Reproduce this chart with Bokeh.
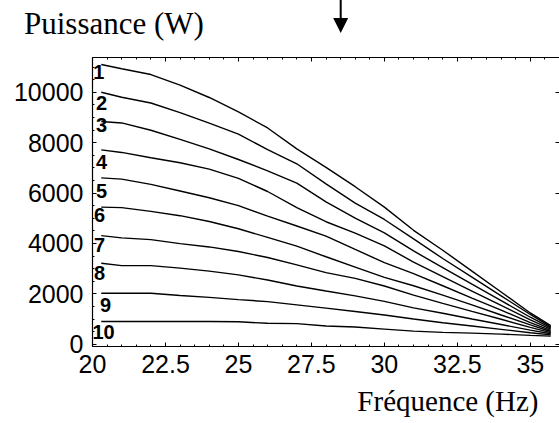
from bokeh.plotting import figure
from bokeh.layouts import column
from bokeh.models import LinearAxis, Range1d, SingleIntervalTicker, Title, Div
from bokeh.embed import file_html
from bokeh.resources import INLINE
from bokeh.core.properties import value

# ---- data ----
freq = [20.3, 21, 22, 23, 24, 25, 26, 27, 28, 29, 30, 31, 32, 33, 34, 35, 35.7]

c1 = [11100, 10930, 10700, 10280, 9790, 9220, 8580, 7750, 7020, 6250, 5440, 4520, 3730, 2900, 2070, 1240, 740]
c2 = [10000, 9800, 9570, 9190, 8770, 8340, 7720, 7160, 6360, 5600, 4950, 4180, 3400, 2660, 1920, 1180, 690]
c3 = [8840, 8780, 8490, 8130, 7750, 7330, 6880, 6390, 5650, 5000, 4420, 3700, 3040, 2380, 1730, 1070, 645]
c4 = [7710, 7610, 7400, 7200, 6950, 6580, 6060, 5420, 4860, 4410, 3900, 3260, 2680, 2110, 1540, 970, 600]
c5 = [6600, 6550, 6340, 6080, 5810, 5500, 5080, 4690, 4290, 3760, 3240, 2800, 2320, 1830, 1350, 860, 550]
c6 = [5440, 5420, 5270, 5100, 4870, 4580, 4240, 3890, 3470, 3060, 2650, 2320, 1950, 1560, 1160, 765, 505]
c7 = [4310, 4220, 4150, 3990, 3860, 3680, 3440, 3150, 2840, 2610, 2310, 1950, 1620, 1300, 990, 670, 460]
c8 = [3210, 3120, 3120, 3020, 2900, 2750, 2550, 2310, 2110, 1920, 1700, 1440, 1230, 1000, 780, 560, 415]
c9 = [2020, 2020, 2020, 1930, 1860, 1770, 1690, 1560, 1430, 1300, 1160, 1000, 850, 720, 590, 455, 370]
c10 = [900, 900, 900, 900, 900, 890, 830, 815, 720, 680, 600, 520, 470, 440, 400, 350, 320]

curves = [c1, c2, c3, c4, c5, c6, c7, c8, c9, c10]
curve_labels = ["1", "2", "3", "4", "5", "6", "7", "8", "9", "10"]

x_tick_labels = {20: "20", 22.5: "22.5", 25: "25", 27.5: "27.5", 30: "30", 32.5: "32.5", 35: "35"}

y_title = "Puissance (W)"
x_title = "Fréquence (Hz)"
arrow_freq = 28.52

# ---- layout constants ----
W, H = 559, 423
FRAME_LEFT = 92
X0, X1 = 20, 36
PX_PER_HZ = (W - FRAME_LEFT) / (X1 - X0)
TOP_H = 52
MAIN_H = H - TOP_H

# label placement (layout only)
label_x = [20.22, 20.31, 20.31, 20.31, 20.31, 20.24, 20.24, 20.24, 20.45, 20.38]
label_y = [10782, 9552, 8679, 7250, 6099, 5127, 3917, 2825, 1575, 504]

# ---- top strip: y title and arrow ----
ax_px = FRAME_LEFT + (arrow_freq - X0) * PX_PER_HZ
top_html = f"""
<div style="position:relative;width:{W}px;height:{TOP_H}px;background:white;overflow:visible;">
  <span style="position:absolute;left:24px;top:8px;font-family:'Liberation Serif';font-size:31px;
               line-height:1;white-space:nowrap;color:black;">{y_title}</span>
  <svg style="position:absolute;left:0;top:0;overflow:visible" width="{W}" height="{TOP_H}">
    <line x1="{ax_px:.1f}" y1="0" x2="{ax_px:.1f}" y2="20" stroke="black" stroke-width="2"/>
    <polygon points="{ax_px - 7.5:.1f},18 {ax_px + 7.5:.1f},18 {ax_px:.1f},33" fill="black"/>
  </svg>
</div>
"""
top = Div(text=top_html, width=W, height=TOP_H, margin=0)

# ---- main plot ----
p = figure(width=W, height=MAIN_H,
           x_range=Range1d(X0, X1), y_range=Range1d(-91, 11377),
           output_backend="svg", toolbar_location=None,
           min_border_left=FRAME_LEFT, min_border_right=0, min_border_top=5, min_border_bottom=77)
p.grid.visible = False
p.outline_line_color = None
p.background_fill_color = "white"
p.border_fill_color = "white"


def style_axis(ax, ticker, labels=True):
    ax.ticker = ticker
    ax.axis_line_color = "black"
    ax.axis_line_width = 1.2
    ax.major_tick_in = 4
    ax.major_tick_out = 0
    ax.minor_tick_in = 2
    ax.minor_tick_out = 0
    ax.major_tick_line_color = "black"
    ax.minor_tick_line_color = "black"
    ax.major_label_text_font = "Liberation Sans"
    if labels:
        ax.major_label_text_font_size = "25px"
        ax.major_label_text_color = "black"
    else:
        ax.major_label_text_font_size = "1px"
        ax.major_label_text_color = None
        ax.major_label_standoff = 0


style_axis(p.xaxis[0], SingleIntervalTicker(interval=2.5, num_minor_ticks=5))
p.xaxis[0].major_label_standoff = 8
p.xaxis[0].major_label_overrides = x_tick_labels
style_axis(p.yaxis[0], SingleIntervalTicker(interval=2000, num_minor_ticks=4))
p.yaxis[0].major_label_standoff = 9

top_axis = LinearAxis()
style_axis(top_axis, SingleIntervalTicker(interval=2.5, num_minor_ticks=5), labels=False)
p.add_layout(top_axis, "above")

right_axis = LinearAxis()
style_axis(right_axis, SingleIntervalTicker(interval=2000, num_minor_ticks=4), labels=False)
right_axis.axis_line_color = None
right_axis.minor_tick_line_color = None
p.add_layout(right_axis, "right")

for c in curves:
    p.line(freq, c, line_color="black", line_width=1.4)

p.text(x=label_x, y=label_y, text=curve_labels,
       text_font=value("Liberation Sans"), text_font_style="bold",
       text_font_size=value("20px"), text_align="center", text_baseline="middle",
       text_color="black")

p.add_layout(Title(text=x_title, align="right", offset=21, standoff=14,
                   text_font="Liberation Serif", text_font_size="29px",
                   text_font_style="normal", text_color="black"), "below")

layout = column(top, p, spacing=0)
open("out.html", "w").write(file_html(layout, INLINE))
